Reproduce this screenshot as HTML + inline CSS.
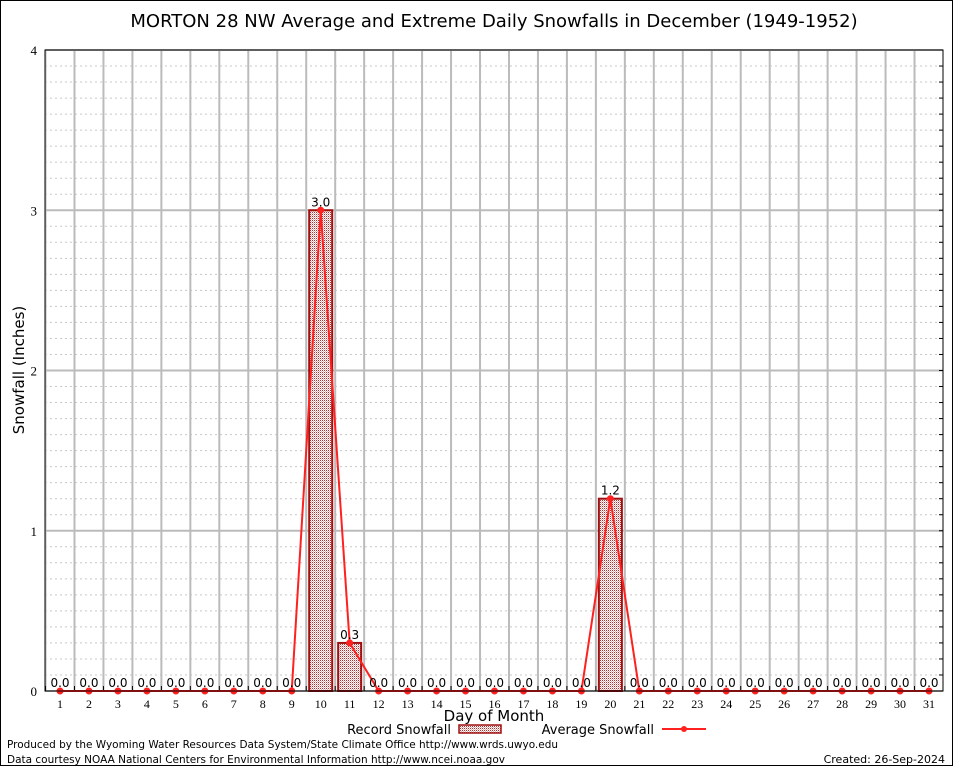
<!DOCTYPE html>
<html><head><meta charset="utf-8"><style>
body{margin:0;background:#fff;}
svg{display:block;font-family:"DejaVu Sans","Liberation Sans",sans-serif;}
</style></head><body>
<svg id="chart" width="954" height="768" viewBox="0 0 954 768" xmlns="http://www.w3.org/2000/svg">
<defs>
<pattern id="hatch" width="2" height="2" patternUnits="userSpaceOnUse">
<rect width="2" height="2" fill="#fff"/><rect width="1" height="1" fill="#b03030"/><rect x="1" y="1" width="1" height="1" fill="#e8b0b0"/>
</pattern>
</defs>
<rect x="0.5" y="0.5" width="952" height="765" fill="#fff" stroke="#000"/>
<text x="494" y="27" font-size="18" text-anchor="middle">MORTON 28 NW Average and Extreme Daily Snowfalls in December (1949-1952)</text>
<g id="grid"></g>
<g id="bars"></g>
<g id="line"></g>
<g id="labels"></g>
<rect x="45" y="50" width="898" height="641" fill="none" stroke="#000"/>
<text transform="translate(24,370) rotate(-90)" font-size="15" text-anchor="middle">Snowfall (Inches)</text>
<text x="494" y="721" font-size="15" text-anchor="middle">Day of Month</text>
<g>
<text x="451" y="734" font-size="13" text-anchor="end">Record Snowfall</text>
<rect x="459" y="725" width="42" height="8" fill="url(#hatch)" stroke="#a01010" stroke-width="1.5"/>
</g>
<g>
<text x="654" y="734" font-size="13" text-anchor="end">Average Snowfall</text>
<line x1="662" y1="729" x2="706" y2="729" stroke="#ff2020" stroke-width="2"/>
<circle cx="684" cy="729" r="3" fill="#ff2020"/>
</g>
<text x="7" y="748" font-size="11" textLength="551" lengthAdjust="spacingAndGlyphs">Produced by the Wyoming Water Resources Data System/State Climate Office http://www.wrds.uwyo.edu</text>
<text x="7" y="763" font-size="11" textLength="498" lengthAdjust="spacingAndGlyphs">Data courtesy NOAA National Centers for Environmental Information http://www.ncei.noaa.gov</text>
<text x="945" y="763" font-size="11" text-anchor="end">Created: 26-Sep-2024</text>
</svg>
<script>
const days = Array.from({length:31},(_,i)=>i+1);
const recordSnow = [0,0,0,0,0,0,0,0,0,3.0,0.3,0,0,0,0,0,0,0,0,1.2,0,0,0,0,0,0,0,0,0,0,0];
const avgSnow = [0,0,0,0,0,0,0,0,0,3.0,0.3,0,0,0,0,0,0,0,0,1.2,0,0,0,0,0,0,0,0,0,0,0];
const yTicks = [0,1,2,3,4];
const NS="http://www.w3.org/2000/svg";
const X0=45,X1=943,Y0=691,Y1=50,YMAX=4;
const step=(929-60)/30;
function xs(d){return 60+(d-1)*step;}
function ys(v){return Y0-(v/YMAX)*(Y0-Y1);}
function mk(tag,attrs,parent,text){const e=document.createElementNS(NS,tag);for(const k in attrs)e.setAttribute(k,attrs[k]);if(text!==undefined)e.textContent=text;parent.appendChild(e);return e;}
const grid=document.getElementById('grid');
for(let v=0;v<=YMAX*10;v++){
  const y=ys(v/10);
  const major=v%10===0;
  const l=mk('line',{x1:X0,x2:X1,y1:y,y2:y,stroke:major?'#bbb':'#c8c8c8','stroke-width':major?2:1,'stroke-dasharray':major?'':'2,3'},grid);
  
  
  mk('line',{x1:X1-4,x2:X1,y1:y,y2:y,stroke:'#000'},grid);
}
for(const t of yTicks){
  const tx=mk('text',{x:37,y:ys(t)+5,'font-size':13,'text-anchor':'end','font-family':'Liberation Serif, serif'},grid,String(t));
  
  
}
for(let i=0;i<31;i++){
  const x=xs(i+0.5);
  const l=mk('line',{x1:x,x2:x,y1:Y1,y2:Y0,stroke:'#bbb','stroke-width':2},grid);
  
  
  mk('line',{x1:x,x2:x,y1:Y0,y2:Y0-5,stroke:'#000'},grid);
}
days.forEach(d=>{
  const t=mk('text',{x:xs(d),y:708,'font-size':12,'text-anchor':'middle','font-family':'Liberation Serif, serif'},grid,String(d));
  
  
});
const bars=document.getElementById('bars');
const labels=document.getElementById('labels');
days.forEach((d,i)=>{
  const v=recordSnow[i];
  if(v>0){
    const b=mk('rect',{x:xs(d)-11.5,y:ys(v),width:23,height:ys(0)-ys(v),fill:'url(#hatch)',stroke:'#a01010','stroke-width':2},bars);
    
    
  }
  const t=mk('text',{x:xs(d),y:ys(v)-4,'font-size':12,'text-anchor':'middle'},labels,v.toFixed(1));
  
  
});
const lg=document.getElementById('line');
const pts=days.map((d,i)=>xs(d)+','+ys(avgSnow[i])).join(' ');
const pl=mk('polyline',{points:pts,fill:'none',stroke:'#ff2020','stroke-width':2},lg);


days.forEach((d,i)=>{
  const c=mk('circle',{cx:xs(d),cy:ys(avgSnow[i]),r:3.5,fill:'#ff2020'},lg);
  
  
});
</script>
</body></html>
